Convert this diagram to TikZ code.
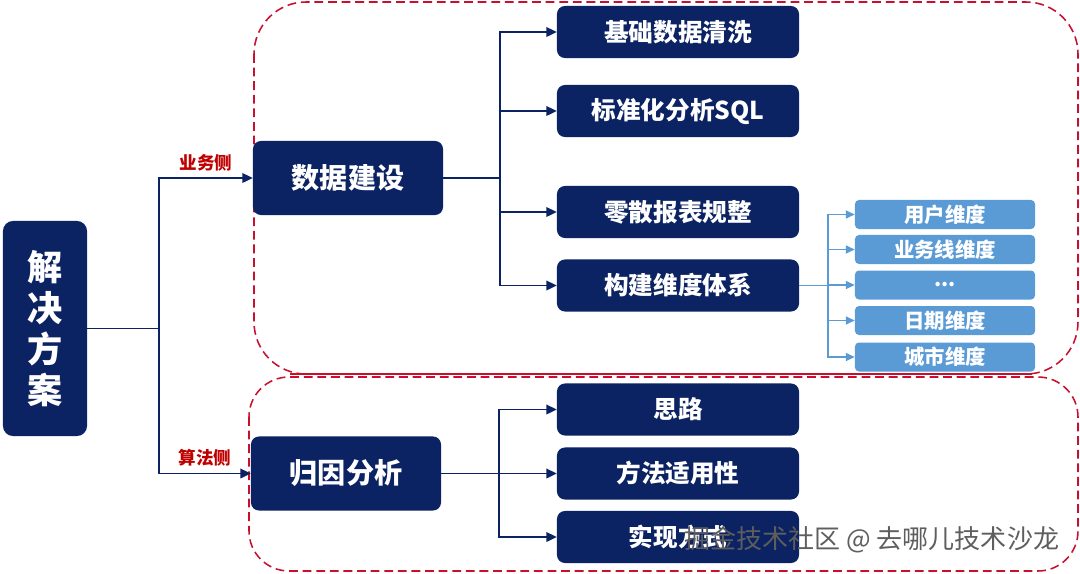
\documentclass[tikz,border=0pt]{standalone}
\usepackage{fontspec}
\setmainfont{Noto Sans CJK SC}
\usepackage{tikz}
\usetikzlibrary{arrows.meta, positioning, calc}
\usepackage{xcolor}
\definecolor{navy}{HTML}{0B2263}
\definecolor{skyblue}{HTML}{5B9BD5}
\definecolor{crimson}{HTML}{C8102E}
\definecolor{labelred}{HTML}{C00000}
\definecolor{marktext}{HTML}{5E5E5E}

\begin{document}
\begin{tikzpicture}[x=0.025cm, y=-0.025cm,
    mainbox/.style={fill=navy, rounded corners=0.2cm, text=white, font=\bfseries\fontsize{20}{24}\selectfont,
        minimum width=4.75cm, minimum height=1.85cm, inner sep=0pt},
    subbox/.style={fill=navy, rounded corners=0.2cm, text=white, font=\bfseries\fontsize{17.5}{21}\selectfont,
        minimum width=6.05cm, minimum height=1.3cm, inner sep=0pt},
    dimbox/.style={fill=skyblue, rounded corners=0.1cm, text=white, font=\bfseries\fontsize{14.5}{17}\selectfont,
        minimum width=4.5cm, minimum height=0.725cm, inner sep=0pt},
    link/.style={navy, line width=1.4pt},
    arrowlink/.style={link, -{Triangle[length=2.6mm, width=2.4mm]}},
    dimlink/.style={skyblue, line width=1pt, -{Triangle[length=2.2mm, width=2mm]}},
    side/.style={text=labelred, font=\bfseries\fontsize{12.5}{14}\selectfont},
    zone/.style={crimson, line width=1.1pt, dash pattern=on 0.22cm off 0.12cm}]
    \useasboundingbox (0,0) rectangle (1080,573);

    % 1. Dashed zones
    \draw[zone, rounded corners=1.3cm] (254,2) rectangle (1078,374);
    \draw[crimson, line width=1.1pt] (290,374) -- (1032,374);
    \draw[zone, rounded corners=1cm] (249,377) rectangle (1078,571);

    % 2. Root and the two sides
    \node[fill=navy, rounded corners=0.25cm, text=white, font=\bfseries\fontsize{25}{29}\selectfont,
        minimum width=2.1cm, minimum height=5.375cm, inner sep=0pt, align=center]
        (root) at (45,328.5) {解\\决\\方\\案};
    \node[mainbox] (build) at (348,178) {数据建设};
    \node[mainbox] (attrib) at (346,473.5) {归因分析};

    \coordinate (rootfork) at (159,328.5);
    \draw[link] (root.east) -- (rootfork);
    \draw[arrowlink] (rootfork) |- (build.west) node[side, pos=0.75, above=1pt] {业务侧};
    \draw[arrowlink] (rootfork) |- (attrib.west) node[side, pos=0.75, above=1pt] {算法侧};

    % 3. Data building branch
    \node[subbox] (clean) at (678,32) {基础数据清洗};
    \node[subbox] (sql) at (678,111) {标准化分析SQL};
    \node[subbox] (report) at (678,212) {零散报表规整};
    \node[subbox] (dims) at (678,285.5) {构建维度体系};

    \coordinate (buildfork) at (500,178);
    \draw[link] (build.east) -- (buildfork);
    \foreach \t in {clean, sql, report, dims}
        \draw[arrowlink] (buildfork) |- (\t.west);

    % 4. Dimensions
    \node[dimbox] (user) at (945,214.5) {用户维度};
    \node[dimbox] (line) at (945,249.5) {业务线维度};
    \node[dimbox] (more) at (945,285) {...};
    \node[dimbox] (date) at (945,320.5) {日期维度};
    \node[dimbox] (city) at (945,357) {城市维度};

    \coordinate (dimsfork) at (828,285.5);
    \draw[skyblue, line width=1pt] (dims.east) -- (dimsfork);
    \foreach \t in {user, line, more, date, city}
        \draw[dimlink] (dimsfork) |- (\t.west);

    % 5. Attribution branch
    \node[subbox] (idea) at (678,409.5) {思路};
    \node[subbox] (method) at (678,473.5) {方法适用性};
    \node[subbox] (impl) at (678,537) {实现方式};

    \coordinate (attribfork) at (499,473.5);
    \draw[link] (attrib.east) -- (attribfork);
    \foreach \t in {idea, method, impl}
        \draw[arrowlink] (attribfork) |- (\t.west);

    % 6. Watermark
    \node[text=marktext, font=\fontsize{18.5}{22}\selectfont, anchor=east] (mark) at (1064,540) {掘金技术社区 @ 去哪儿技术沙龙};
\end{tikzpicture}
\end{document}
